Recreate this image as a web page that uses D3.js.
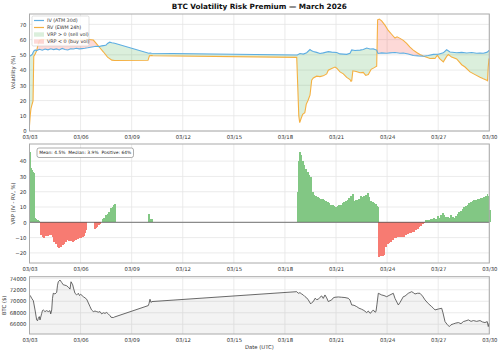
<!DOCTYPE html>
<html>
<head>
<meta charset="utf-8">
<script src="https://cdn.jsdelivr.net/npm/d3@7"></script>
<style>
  body { margin: 0; background: #fff; }
  text { font-family: "DejaVu Sans", sans-serif; }
</style>
</head>
<body>
<div id="chart"></div>
<script>
// hours since 2026-03-03 00:00 UTC, value
const ivData = [
  [0,49.1],[2,49.5],[4,50.5],[6,52.5],[8,53.2],[10,52.8],[14,53.6],[18,53.0],[22,53.8],[26,53.3],
  [30,54.0],[34,53.4],[38,53.9],[42,53.2],[46,54.2],[50,53.5],[54,53.2],[58,54.0],[62,53.8],[66,54.3],
  [70,53.9],[74,54.1],[78,54.3],[82,54.6],[86,55.0],[90,55.3],[94,55.6],[98,55.4],[102,55.9],[106,56.2],
  [108,56.4],[110,57.5],[113,58.3],[116,57.9],[120,57.6],
  [168,51.0],[170,51.1],[172,51.0],
  [377.4,49.9],[381.2,50.9],[385.9,50.5],[390.6,51.4],[395.3,53.5],[397.7,52.6],[400,52.2],[404.7,51.6],
  [409.4,50.9],[414,51.3],[421.1,52.1],[425.9,51.8],[432.9,51.5],[437.6,50.6],[447,50.3],[451.7,51.0],
  [454.1,53.2],[458.7,52.8],[465.8,53.1],[470.4,53.5],[475.2,54.5],[479.9,53.8],[484.5,53.9],[489.3,53.1],
  [491.1,50.9],[496.3,51.3],[503.4,51.0],[508,51.3],[515.1,51.5],[522.2,51.0],[526.8,51.2],[533.8,50.5],
  [540.9,49.6],[548,49.3],[555,49.1],[562,49.6],[569.1,50.3],[576.1,50.4],[583.2,51.3],[587.9,53.3],
  [592.6,51.9],[602,51.4],[609.1,51.6],[616.1,51.2],[623.2,51.5],[630.2,51.0],[634.9,51.2],[639.5,51.0],
  [644.3,51.6],[646.2,52.2],[647.6,53.0]
];
const rvData = [
  [0,3.7],[1,10],[2,14.5],[3,16.5],[5,19.8],[6,49],[8,50.5],[10,52.6],[12,56.5],[14,59.5],[17,60.2],
  [24,60.0],[30,60.4],[40,59.8],[50,60.2],[60,60.0],[70,59.9],[80,60.2],[90,59.7],[94,57.5],[98,55.3],
  [104,52.0],[110,48.5],[116,46.5],[120,46.3],
  [167,46.4],[169,49.4],[172,49.5],[174,49.4],
  [376.6,48.3],[378,30],[379.5,10],[380.8,5.5],[383,8.5],[385,11.0],[388,12],[390,17.5],[392.6,20.2],
  [395.3,23.5],[397.7,33.4],[400,34.8],[404.7,36.0],[409.4,35.7],[414,36.2],[418.8,37.5],[421.1,39.9],
  [425.9,41.0],[430.6,42.0],[433,41.2],[437.6,38.8],[442.3,37.5],[447,35.2],[451.7,33.8],[453,32.6],
  [454.1,32.9],[455.7,39.5],[460.4,39.0],[465.8,38.2],[470.4,38.5],[473.8,36.5],[477.5,37.1],[481.5,40.5],
  [485.9,41.6],[489.3,42.6],[490.6,73.0],[493,73.5],[496.3,72.3],[500.9,69.5],[505.6,66.0],[510.3,63.5],
  [515.1,61.0],[518,61.8],[522.2,60.8],[526.8,59.5],[531.5,57.5],[536.2,55.0],[540.9,53.1],[545.6,51.5],
  [550.3,50.2],[555,49.2],[559.7,48.4],[564.4,47.6],[569.1,47.8],[571.5,47.6],[574.7,49.8],[578,47.5],
  [583.2,45.4],[587.9,49.0],[590.3,50.2],[594.9,48.5],[602,47.3],[609.1,43.5],[613.8,42.0],[620.8,38.8],
  [627.9,37.0],[634.9,35.3],[639.6,34.3],[644.3,33.4],[645.5,33.0],[646.5,42.0],[647.6,47.6]
];
const vrpData = [
  [0,46],[1,40],[1.7,35.3],[3.1,34.2],[4.2,33],[5.4,32],[6.8,2.6],[8.5,2.2],[10.1,1.8],[12,1.2],[13.4,0.8],
  [14.8,-8.3],[17.2,-9.5],[19.4,-10.2],[21.8,-9.2],[24.2,-9.0],[26.5,-8.6],[28.9,-8.5],[31.3,-9.5],
  [33.5,-12.7],[35.9,-14.5],[38.3,-15.9],[40.6,-17.0],[43,-16.2],[45.4,-14.8],[47.6,-14.0],[50,-12.6],
  [52.4,-11.6],[54.7,-12.2],[57.1,-12.5],[59.5,-12.7],[61.7,-12.0],[64.1,-11.8],[66.5,-11.0],[68.8,-10.5],
  [71.2,-10.0],[73.6,-9.4],[75.8,-9.0],[78.2,-7.0],[79.6,-5.0],
  [91.3,-4.6],[93,-3.8],[94.7,-3.0],[96.5,-2.0],[98.4,-1.0],[100,0.5],[101.7,2.0],[104,3.0],[106.4,4.5],
  [108.8,5.5],[111,7.0],[113.4,9.1],[115.8,10.0],[118.1,11.2],[119.5,12.0],
  [167.4,5.4],[169,1.5],[170.5,2.2],[172.6,2.0],
  [376.6,1.5],[377.5,20],[378.5,40],[380.2,46],[382.2,44],[383.6,40],[385.9,37.5],[388.3,35],[390.6,33],
  [392.9,31],[395.3,29.8],[397.7,20],[400,17.8],[402.4,17.2],[404.7,16.5],[407,16.0],[409.4,15.5],
  [411.8,15.0],[414,14.5],[416.4,13.8],[418.8,13.0],[421.1,12.4],[423.5,11.5],[425.9,11.0],[428.1,10.5],
  [430.5,10.2],[432.9,10.4],[435.2,11.0],[437.6,11.5],[440,12.5],[442.3,13.2],[444.6,14.0],[447,14.6],
  [449.3,16.0],[451.7,17.0],[454.1,18.5],[456.3,14.0],[458.7,14.5],[461.1,14.6],[463.4,15.0],[465.8,17.5],
  [468.1,16.5],[470.4,17.0],[472.8,18.0],[475.2,19.0],[477.5,16.5],[479.9,14.0],[482.2,13.0],[484.5,12.5],
  [486.9,12.0],[489.3,10.5],[490.4,10.0],[491.6,-22.5],[494,-22.3],[496.3,-22.0],[498.6,-21.4],[501,-15.9],
  [503.4,-14.5],[505.6,-13.5],[508,-12.7],[510.4,-11.5],[512.7,-10.5],[515.1,-10.0],[517.5,-9.4],
  [519.8,-9.6],[522.2,-9.5],[524.6,-9.4],[526.8,-9.4],[529.2,-8.2],[531.6,-7.7],[533.8,-7.2],[536.2,-6.8],
  [538.6,-6.5],[540.9,-6.2],[543.3,-5.2],[545.6,-4.2],[548,-3.3],[550.3,-2.3],[552.7,-1.3],[555,-0.3],
  [557.4,1.5],[559.7,1.2],[562,1.8],[564.4,2.2],[566.8,2.0],[569.1,2.6],[571.5,2.4],[573.9,4.1],[576.1,3.0],
  [578.5,4.5],[580.9,5.8],[583.2,4.5],[585.6,3.6],[587.9,3.6],[590.3,3.0],[592.6,4.8],[595,3.5],[597.3,2.6],
  [599.6,4.0],[602,5.4],[604.4,6.5],[606.8,7.5],[609.1,9.0],[611.4,10.2],[613.8,10.8],[616.1,11.5],
  [618.5,12.6],[620.8,13.5],[623.2,13.8],[625.5,14.5],[627.9,14.8],[630.2,15.0],[632.6,15.5],[634.9,16.0],
  [637.3,16.2],[639.5,16.8],[641.9,17.0],[644.3,18.5],[645.5,17.5],[646.6,11.4],[647.6,8.0]
];
const btcData = [
  [0,71100],[1.4,70900],[3.1,70520],[5.4,70100],[7.8,68490],[10.1,66750],[11.3,66600],[12.4,67040],
  [13.8,67330],[14.8,66750],[17.2,67900],[18.3,68400],[19.4,68490],[21.8,68200],[24.2,68370],[26.5,68200],
  [28.9,68370],[29.9,67800],[31.3,68490],[32.4,70500],[33.5,71390],[35.9,71270],[38.3,71560],[39.5,72800],
  [40.6,73400],[43,73700],[45.4,73270],[47.6,72870],[50,72800],[52.4,72700],[54.7,72460],[57.1,72120],
  [58.5,73400],[60.9,72870],[62,72300],[64.1,71390],[66.5,71100],[68.8,71390],[70.5,71000],[72.2,71210],
  [75.8,70800],[78.2,70600],[80.6,70350],[85.3,69070],[87.4,68500],[89.9,68200],[92.3,68300],[94.7,68200],
  [97,68100],[99.4,68200],[101.7,67800],[104,68000],[106.4,67900],[108.8,68050],[111,67800],[113.4,67500],
  [114.9,67220],[118.1,67160],[119.5,67250],
  [167.4,69250],[168.4,69600],[169.8,70350],[171.2,69800],[172.6,69950],
  [376.6,71670],[378.8,71390],[381.2,71500],[383.6,71270],[385.9,71100],[388.3,70800],[390.6,70600],
  [392.9,70240],[396.3,69540],[398.1,69800],[400,69950],[402.4,70520],[404.7,70300],[407,70350],[409.4,70700],
  [411.8,70930],[414,70500],[416.4,71100],[418.8,70600],[421.1,69950],[423.5,70100],[425.9,70240],
  [428.1,70600],[430.5,70700],[435.2,70750],[440,70700],[444.6,70650],[449.3,70520],[451.7,70200],
  [454.1,69360],[457.4,69300],[461.1,69070],[464.3,68800],[468.1,68610],[471.3,68400],[475.2,68030],
  [477.5,68300],[479.9,67900],[482.7,68200],[484.5,68490],[486.9,68100],[488.3,68200],[489.7,69500],
  [491.6,71390],[494,71250],[496.3,71100],[499.6,71000],[503.4,70800],[508,71100],[512.7,71390],[515.1,70500],
  [519.8,69360],[522.2,69800],[526.8,70800],[529.2,70900],[533.8,71390],[538.6,71670],[540.9,71500],
  [543.3,71270],[546.8,71400],[550.3,71390],[553.9,70900],[557.4,70240],[562,69600],[566.8,69070],
  [569.1,68800],[571.5,68490],[576.1,68650],[580.9,68780],[582.7,68000],[585.6,66460],[588.4,66000],
  [591.6,65590],[594,65900],[597.3,66060],[600.8,66200],[604.4,66290],[608.1,66100],[611.4,66460],
  [615.2,66600],[618.5,66750],[622.3,66500],[625.5,66640],[630.2,66500],[634.9,66640],[638.4,66400],
  [641.9,66290],[645.1,66460],[646.6,65590],[647.6,66170]
];
const xTickLabels = ["03/03","03/06","03/09","03/12","03/15","03/18","03/21","03/24","03/27","03/30"];
const volTicks = [0,10,20,30,40,50,60,70];
const vrpTicks = [-20,-10,0,10,20,30,40];
const btcTicks = [66000,68000,70000,72000,74000];
const stats = { mean: 4.5, median: 3.9, positive: 64 };

const W = 500, H = 354;
const svg = d3.select("#chart").append("svg").attr("width", W).attr("height", H);

const left = 29.5, right = 489.3;
const p1 = { top: 14, bottom: 131 }, p2 = { top: 144, bottom: 263 }, p3 = { top: 276.7, bottom: 334 };

const t0 = Date.UTC(2026, 2, 3);
const toDate = (h) => new Date(t0 + h * 36e5);
const x = d3.scaleUtc().domain([toDate(0), toDate(648)]).range([left, right]);
const xTicks = xTickLabels.map((s) => new Date(Date.UTC(2026, +s.slice(0, 2) - 1, +s.slice(3))));

const y1 = d3.scaleLinear().domain([0, 76.8]).range([p1.bottom, p1.top]);
const y2 = d3.scaleLinear().domain([-26.6, 51.2]).range([p2.bottom, p2.top]);
const y3 = d3.scaleLinear().domain([64300, 74280]).range([p3.bottom, p3.top]);

const green = "#4caf50", red = "#f44336";
const ivColor = "#5dade2", rvColor = "#f5b041";

function frame(p, y, yTicks, fmt) {
  const g = svg.append("g");
  g.append("g").selectAll("line").data(xTicks).enter().append("line")
    .attr("x1", (d) => x(d)).attr("x2", (d) => x(d))
    .attr("y1", p.top).attr("y2", p.bottom)
    .attr("stroke", "#e6e6e6").attr("stroke-width", 0.8);
  g.append("g").selectAll("line").data(yTicks).enter().append("line")
    .attr("x1", left).attr("x2", right)
    .attr("y1", (d) => y(d)).attr("y2", (d) => y(d))
    .attr("stroke", "#e6e6e6").attr("stroke-width", 0.8);

  const xa = g.append("g").attr("transform", `translate(0,${p.bottom})`)
    .call(d3.axisBottom(x).tickValues(xTicks).tickFormat(d3.utcFormat("%m/%d")).tickSize(0).tickPadding(4));
  const ya = g.append("g").attr("transform", `translate(${left},0)`)
    .call(d3.axisLeft(y).tickValues(yTicks).tickFormat(fmt).tickSize(0).tickPadding(3));
  [xa, ya].forEach((a) => {
    a.select(".domain").remove();
    a.selectAll("text").attr("font-size", 5.3).attr("fill", "#333").attr("font-family", "DejaVu Sans");
  });
  return g;
}

function border(p) {
  svg.append("rect").attr("x", left).attr("y", p.top)
    .attr("width", right - left).attr("height", p.bottom - p.top)
    .attr("fill", "none").attr("stroke", "#aaa").attr("stroke-width", 1);
}

function yLabel(text, px, p) {
  svg.append("text").attr("transform", `translate(${px},${(p.top + p.bottom) / 2}) rotate(-90)`)
    .attr("text-anchor", "middle").attr("font-size", 5.3).attr("fill", "#333").text(text);
}

// ---------- panel 1: IV vs RV ----------
frame(p1, y1, volTicks, d3.format("d"));
const defs = svg.append("defs");
const rvAbove = d3.area().x((d) => x(toDate(d[0]))).y0(p1.top).y1((d) => y1(d[1]));
const rvBelow = d3.area().x((d) => x(toDate(d[0]))).y0(p1.bottom).y1((d) => y1(d[1]));
defs.append("clipPath").attr("id", "aboveRV").append("path").attr("d", rvAbove(rvData));
defs.append("clipPath").attr("id", "belowRV").append("path").attr("d", rvBelow(rvData));

const ivDown = d3.area().x((d) => x(toDate(d[0]))).y0(p1.bottom).y1((d) => y1(d[1]));
const ivUp = d3.area().x((d) => x(toDate(d[0]))).y0(p1.top).y1((d) => y1(d[1]));
svg.append("path").attr("d", ivDown(ivData)).attr("clip-path", "url(#aboveRV)")
  .attr("fill", green).attr("fill-opacity", 0.2);
svg.append("path").attr("d", ivUp(ivData)).attr("clip-path", "url(#belowRV)")
  .attr("fill", red).attr("fill-opacity", 0.2);

const line1 = d3.line().x((d) => x(toDate(d[0]))).y((d) => y1(d[1]));
svg.append("path").attr("d", line1(rvData)).attr("fill", "none").attr("stroke", rvColor).attr("stroke-width", 1.1);
svg.append("path").attr("d", line1(ivData)).attr("fill", "none").attr("stroke", ivColor).attr("stroke-width", 1.1);
border(p1);
yLabel("Volatility (%)", 15, p1);

// legend
const lg = svg.append("g").attr("transform", "translate(32,16)");
lg.append("rect").attr("width", 57).attr("height", 30).attr("rx", 1.5)
  .attr("fill", "#fff").attr("fill-opacity", 0.85).attr("stroke", "#ccc").attr("stroke-width", 0.6);
const items = [
  { label: "IV (ATM 30d)", type: "line", color: ivColor },
  { label: "RV (EWM 24h)", type: "line", color: rvColor },
  { label: "VRP > 0 (sell vol)", type: "patch", color: green },
  { label: "VRP < 0 (buy vol)", type: "patch", color: red }
];
items.forEach((it, i) => {
  const cy = 4.5 + i * 7;
  if (it.type === "line") {
    lg.append("line").attr("x1", 2).attr("x2", 12).attr("y1", cy).attr("y2", cy)
      .attr("stroke", it.color).attr("stroke-width", 1.2);
  } else {
    lg.append("rect").attr("x", 2).attr("y", cy - 2.2).attr("width", 10).attr("height", 4.4)
      .attr("fill", it.color).attr("fill-opacity", 0.2);
  }
  lg.append("text").attr("x", 15).attr("y", cy + 1.7).attr("font-size", 4.8).attr("fill", "#333").text(it.label);
});

// ---------- panel 2: VRP bars ----------
frame(p2, y2, vrpTicks, d3.format("d"));
svg.append("g").selectAll("rect").data(vrpData).enter().append("rect")
  .attr("x", (d) => x(toDate(d[0])))
  .attr("width", (d, i) => {
    const next = vrpData[i + 1];
    const w = next && next[0] - d[0] < 3 ? next[0] - d[0] : 1.5;
    return x(toDate(d[0] + w)) - x(toDate(d[0])) + 0.45;
  })
  .attr("y", (d) => y2(Math.max(0, d[1])))
  .attr("height", (d) => Math.abs(y2(d[1]) - y2(0)))
  .attr("fill", (d) => (d[1] >= 0 ? "#82c784" : "#f77b72"))
  .attr("shape-rendering", "crispEdges");
svg.append("line").attr("x1", left).attr("x2", right).attr("y1", y2(0)).attr("y2", y2(0))
  .attr("stroke", "#555").attr("stroke-width", 0.8);
border(p2);
yLabel("VRP (IV - RV, %)", 15, p2);

const sg = svg.append("g").attr("transform", "translate(37,148)");
const statText = `Mean: ${stats.mean}%  Median: ${stats.median}%  Positive: ${stats.positive}%`;
const statBox = sg.append("rect").attr("height", 9.5).attr("rx", 2)
  .attr("fill", "#fff").attr("stroke", "#777").attr("stroke-width", 0.6);
const st = sg.append("text").attr("x", 2.2).attr("y", 6.4)
  .attr("font-size", 4.45).attr("fill", "#222").style("white-space", "pre").text(statText);
statBox.attr("width", st.node().getComputedTextLength() + 4.4);

// ---------- panel 3: BTC ----------
frame(p3, y3, btcTicks, d3.format("d"));
const btcArea = d3.area().x((d) => x(toDate(d[0]))).y0(p3.bottom).y1((d) => y3(d[1]));
const btcLine = d3.line().x((d) => x(toDate(d[0]))).y((d) => y3(d[1]));
svg.append("path").attr("d", btcArea(btcData)).attr("fill", "#888").attr("fill-opacity", 0.1);
svg.append("path").attr("d", btcLine(btcData)).attr("fill", "none").attr("stroke", "#444").attr("stroke-width", 0.8);
border(p3);
yLabel("BTC ($)", 5.5, p3);

svg.append("text").attr("x", (left + right) / 2).attr("y", 349).attr("text-anchor", "middle")
  .attr("font-size", 5.3).attr("fill", "#333").text("Date (UTC)");

svg.append("text").attr("x", (left + right) / 2).attr("y", 8.6).attr("text-anchor", "middle")
  .attr("font-size", 7.3).attr("font-weight", "bold").attr("fill", "#111")
  .text("BTC Volatility Risk Premium — March 2026");
</script>
</body>
</html>
